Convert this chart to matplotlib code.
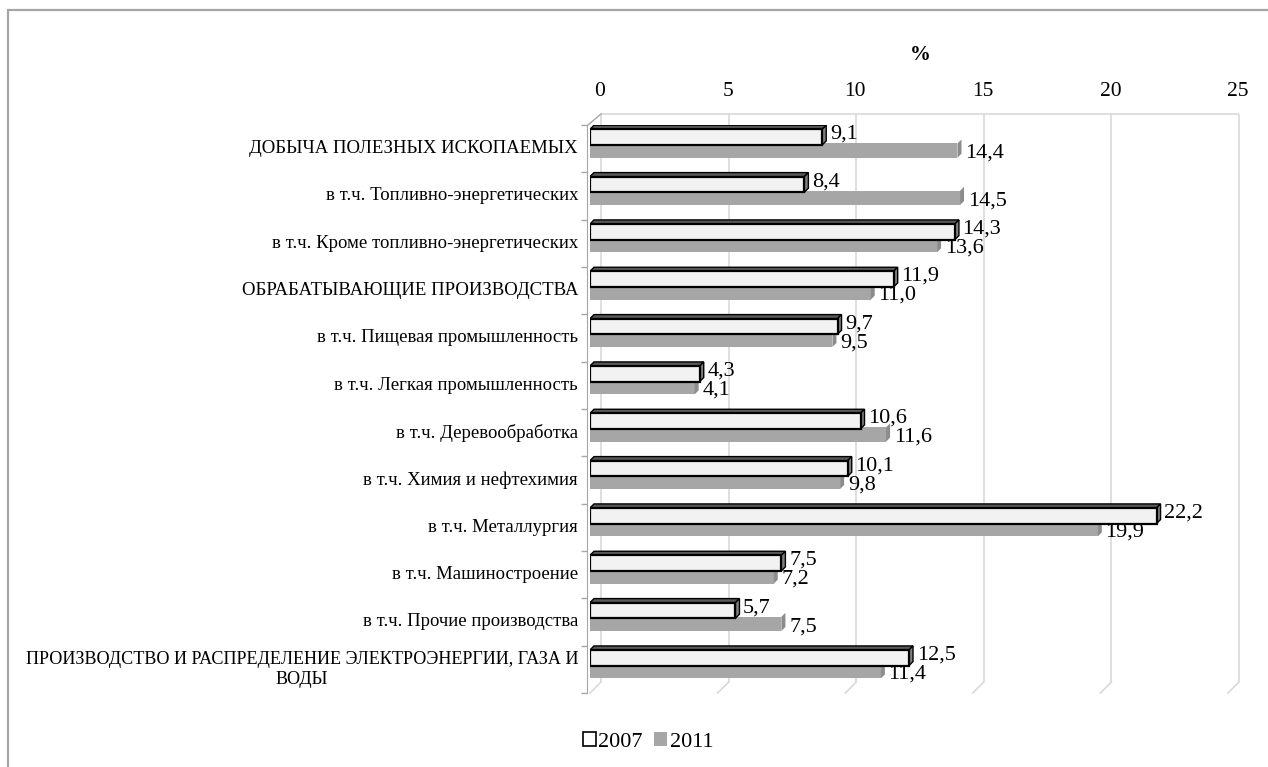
import numpy as np
import matplotlib
matplotlib.use('Agg')
import matplotlib.pyplot as plt
from matplotlib.patches import Polygon, Patch, Rectangle
from matplotlib.lines import Line2D
from matplotlib.transforms import ScaledTranslation, IdentityTransform, blended_transform_factory

plt.rcParams['font.family'] = ['Liberation Serif', 'DejaVu Serif']

categories = ['ДОБЫЧА ПОЛЕЗНЫХ ИСКОПАЕМЫХ',
              'в т.ч. Топливно-энергетических',
              'в т.ч. Кроме топливно-энергетических',
              'ОБРАБАТЫВАЮЩИЕ ПРОИЗВОДСТВА',
              'в т.ч. Пищевая промышленность',
              'в т.ч. Легкая промышленность',
              'в т.ч. Деревообработка',
              'в т.ч. Химия и нефтехимия',
              'в т.ч. Металлургия',
              'в т.ч. Машиностроение',
              'в т.ч. Прочие производства',
              'ПРОИЗВОДСТВО И РАСПРЕДЕЛЕНИЕ ЭЛЕКТРОЭНЕРГИИ, ГАЗА И\nВОДЫ']
v2007 = [9.1, 8.4, 14.3, 11.9, 9.7, 4.3, 10.6, 10.1, 22.2, 7.5, 5.7, 12.5]
v2011 = [14.4, 14.5, 13.6, 11.0, 9.5, 4.1, 11.6, 9.8, 19.9, 7.2, 7.5, 11.4]
xticks = [0, 5, 10, 15, 20, 25]

W, H = 1268, 767
fig = plt.figure(figsize=(W / 100, H / 100), dpi=100)
ax = fig.add_axes([590 / W, 74 / H, 638 / W, 568 / H])
n = len(categories)
ax.set_xlim(0, 25)
ax.set_ylim(n, 0)

# рамка вокруг всего рисунка
fig.add_artist(Rectangle((8 / W, -0.05), 1.1, 1 - 10 / H + 0.05, transform=fig.transFigure,
                         fill=False, edgecolor='#a6a6a6', linewidth=1.6))

# задняя стенка (сетка), сдвинутая для 3D
off = ScaledTranslation(0.11, 0.11, fig.dpi_scale_trans)
grid_col = '#d9d9d9'
ax.vlines(xticks, 0, n, colors=grid_col, linewidth=1.2, transform=ax.transData + off, clip_on=False, zorder=0)
ax.hlines(0, 0, 25, colors=grid_col, linewidth=1.2, transform=ax.transData + off, clip_on=False, zorder=0)
for t in xticks:
    x0, y0 = ax.transData.transform((t, n))
    fig.add_artist(Line2D([x0, x0 + 11], [y0, y0 + 11], transform=IdentityTransform(),
                          color=grid_col, linewidth=1.2))
x0, y0 = ax.transData.transform((0, 0))
fig.add_artist(Line2D([x0 - 2, x0 + 11], [y0, y0 + 11], transform=IdentityTransform(),
                      color='#a6a6a6', linewidth=1.0))

# бары
dx, dy = 4 / 25.5, 4 / 47.3
h_w, h_g = 0.33, 0.30
for i in range(n):
    yw = i + 0.09
    yg = i + 0.39
    v = v2011[i]
    ax.add_patch(Rectangle((0, yg), v, h_g, facecolor='#a6a6a6', edgecolor='none', zorder=2))
    ax.add_patch(Polygon([(v, yg), (v + dx, yg - dy), (v + dx, yg + h_g - dy), (v, yg + h_g)],
                         closed=True, facecolor='#8c8c8c', edgecolor='none', zorder=2))
    v = v2007[i]
    ax.add_patch(Polygon([(0, yw), (v, yw), (v + dx, yw - dy), (dx, yw - dy)], closed=True,
                         facecolor='#595959', edgecolor='black', linewidth=1.0, zorder=3))
    ax.add_patch(Polygon([(v, yw), (v + dx, yw - dy), (v + dx, yw + h_w - dy), (v, yw + h_w)],
                         closed=True, facecolor='#7f7f7f', edgecolor='black', linewidth=1.0, zorder=3))
    ax.add_patch(Rectangle((0, yw), v, h_w, facecolor='#f2f2f2', edgecolor='black',
                           linewidth=1.6, zorder=4))
    ax.text(v2007[i] + 0.3, i + 0.2, f'{v2007[i]:.1f}'.replace('.', ','), fontsize=16,
            ha='left', va='center', zorder=5)
    ax.text(v2011[i] + 0.3, i + 0.6, f'{v2011[i]:.1f}'.replace('.', ','), fontsize=16,
            ha='left', va='center', zorder=5)

# подписи категорий
lab_tr = blended_transform_factory(ax.transAxes, ax.transData) + \
    ScaledTranslation(-0.12, 0, fig.dpi_scale_trans)
for i, c in enumerate(categories):
    fs = 13.1 if '\n' in c else 13.5
    ax.text(0, i + 0.5, c, transform=lab_tr, fontsize=fs, ha='right', va='center',
            multialignment='center')

# оси
ax.set_xticks(xticks)
ax.xaxis.tick_top()
ax.tick_params(axis='x', length=0, pad=17, labelsize=15.5)
ax.set_yticks([])
ax.set_yticks(np.arange(n + 1), minor=True)
ax.tick_params(axis='y', which='minor', length=4, color='#a6a6a6', width=1.0)
for lab in ax.get_xticklabels():
    lab.set_transform(lab.get_transform() + ScaledTranslation(0.10, 0, fig.dpi_scale_trans))
for s in ['top', 'right', 'bottom']:
    ax.spines[s].set_visible(False)
ax.spines['left'].set_color('#a6a6a6')
ax.spines['left'].set_position(('outward', 2))
ax.patch.set_alpha(0)

fig.text(920 / W, 1 - 55 / H, '%', fontsize=15, fontweight='bold', ha='center', va='center')

handles = [Patch(facecolor='white', edgecolor='black', linewidth=1.2),
           Patch(facecolor='#a6a6a6', edgecolor='none')]
fig.legend(handles, ['2007', '2011'], loc='center', bbox_to_anchor=(648 / W, 1 - 742 / H),
           ncol=2, frameon=False, fontsize=16, handlelength=0.6, handleheight=0.6,
           handletextpad=0.1, columnspacing=0.5)

fig.savefig('out.png', dpi=100)
